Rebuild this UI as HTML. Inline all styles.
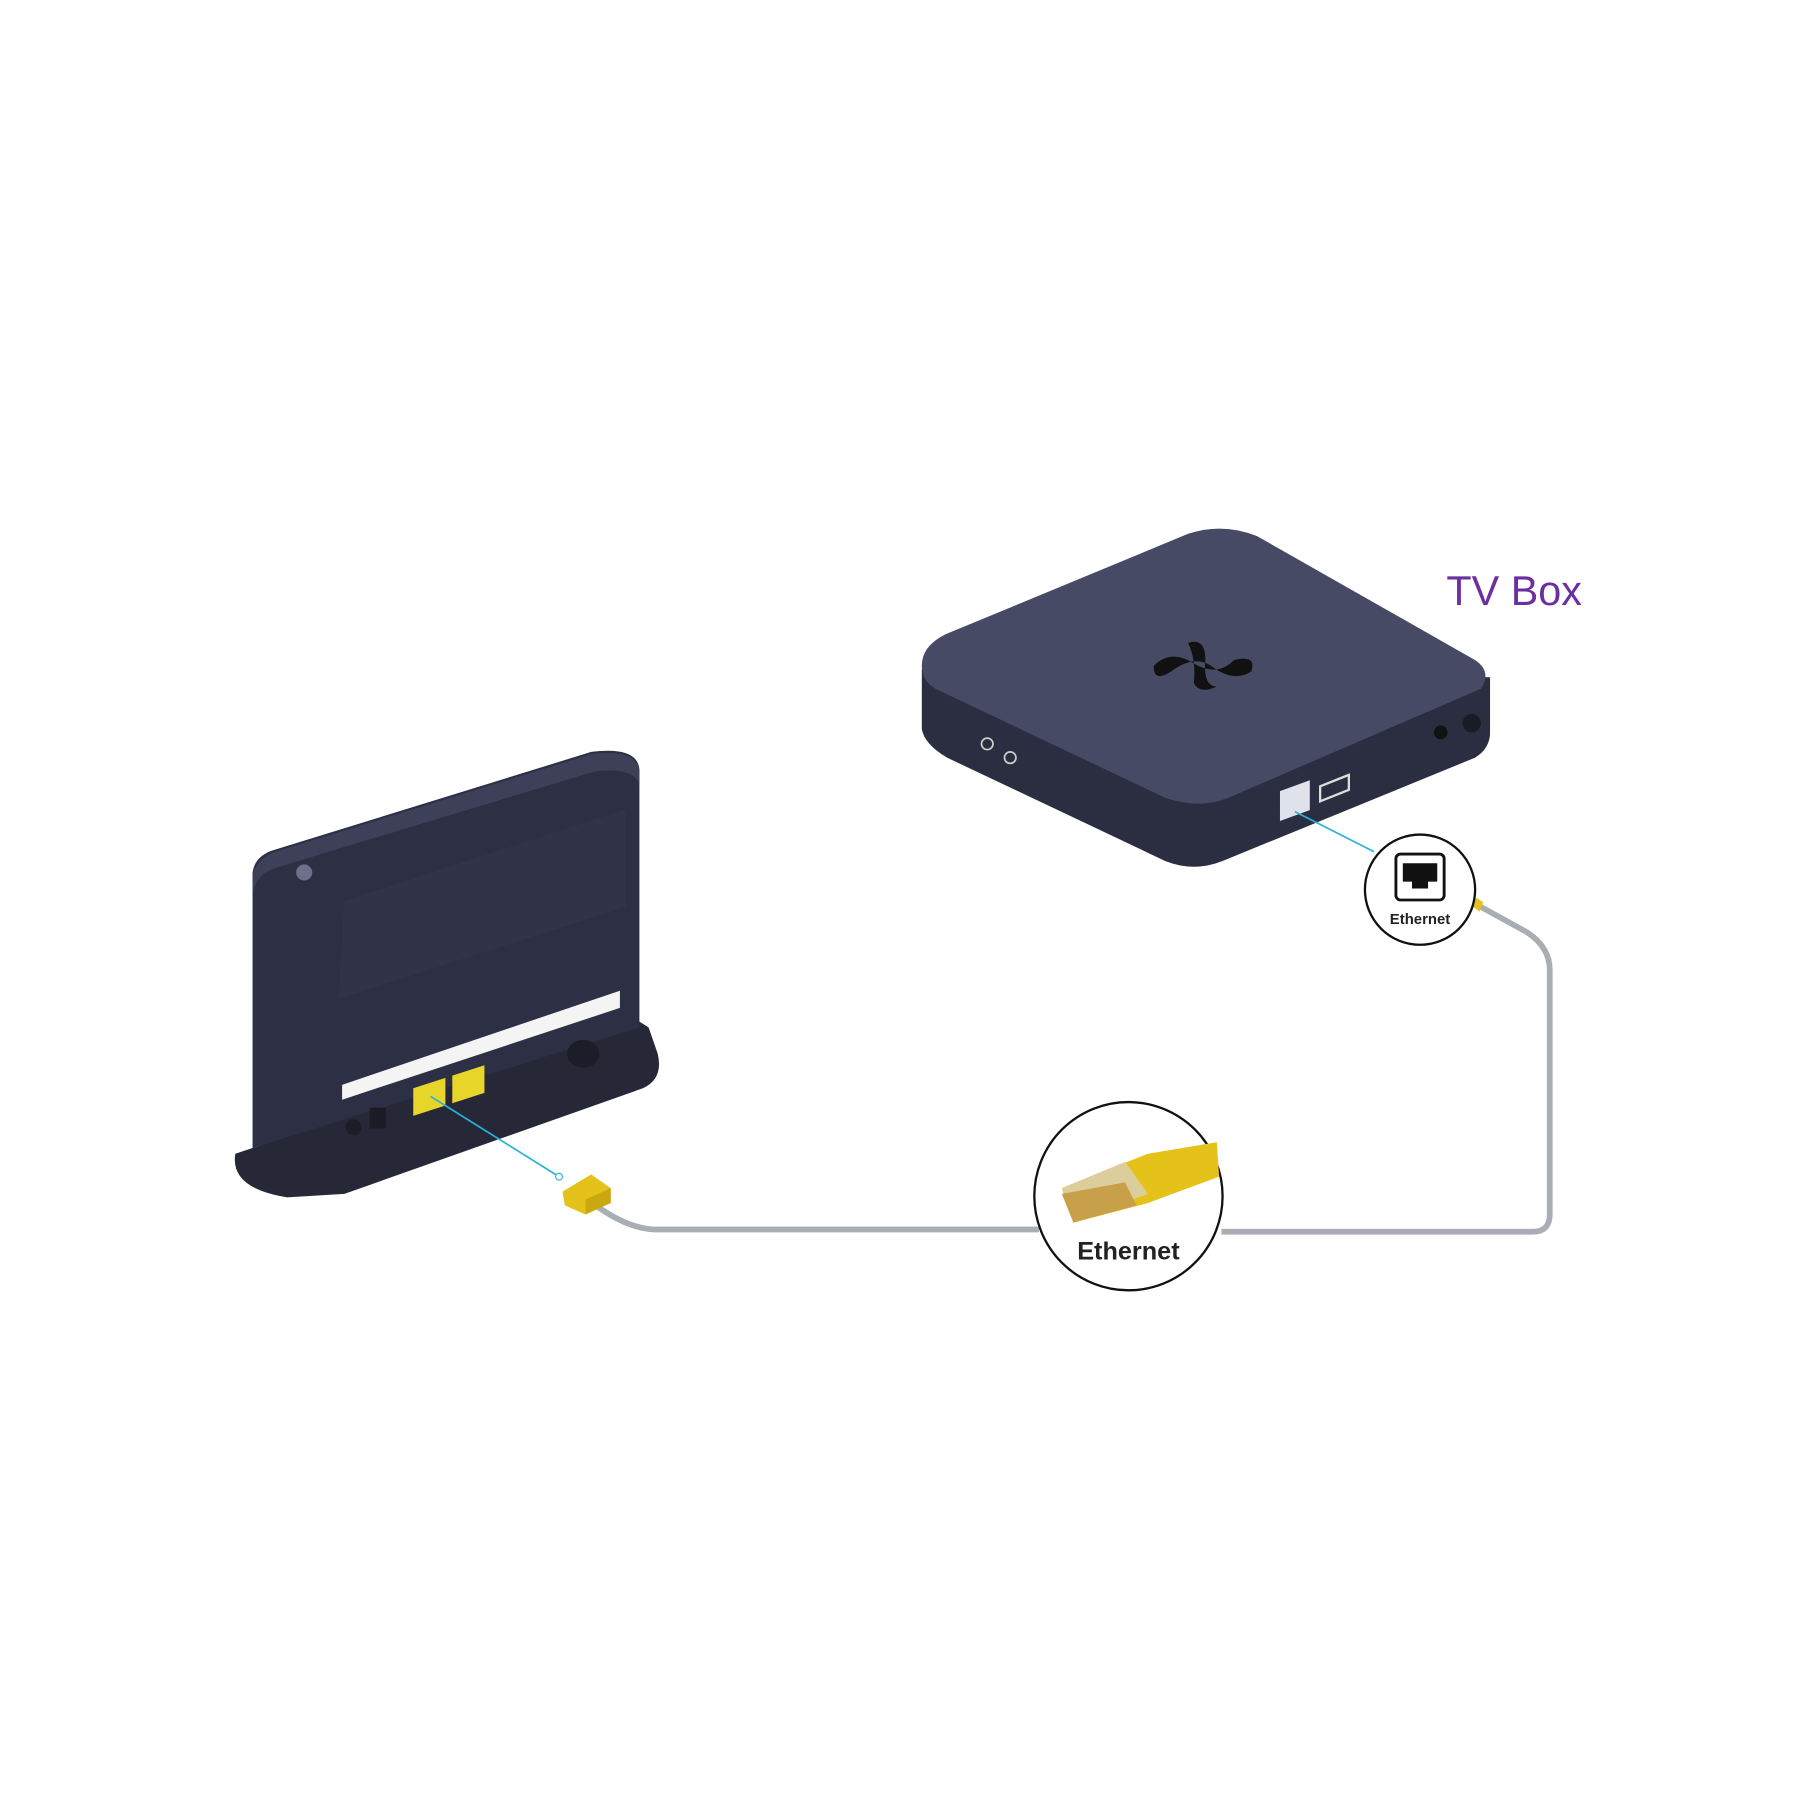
<!DOCTYPE html>
<html><head><meta charset="utf-8"><style>
html,body{margin:0;padding:0;background:#fff;width:1800px;height:1800px;overflow:hidden}
svg{display:block}
text{font-family:"Liberation Sans",sans-serif}
</style></head><body>
<svg width="1800" height="1800" viewBox="0 0 1568 1568" xmlns="http://www.w3.org/2000/svg">
<rect width="1568" height="1568" fill="#fff"/>
<!-- cable -->
<path d="M515 1047 Q545 1070 570 1071 L905 1071" fill="none" stroke="#a9adb4" stroke-width="5"/>
<path d="M1064 1073 L1335 1073 Q1350 1073 1350 1058 L1350 845 Q1350 825 1330 812 L1290 790" fill="none" stroke="#a9adb4" stroke-width="5"/>
<path d="M1286 782 l6 4 l-3 8 l-6 -4z" fill="#e4c21a"/>
<!-- router -->
<path d="M205 1005 Q200 1035 250 1043 L300 1040 L560 948 Q578 940 573 918 L565 895 L557 890 L220 1000 Z" fill="#262838"/>
<path d="M220 760 Q222 745 240 740 L515 655 Q555 650 557 670 L557 895 L220 1000 Z" fill="#2d3045"/>
<path d="M220 765 Q222 748 240 742 L515 657 Q555 652 557 672 L557 685 Q555 668 518 672 L240 756 Q222 762 220 780 Z" fill="#3d4058"/>
<path d="M300 785 L545 705 L545 790 L295 870 Z" fill="#33364b" opacity="0.7"/>
<circle cx="265" cy="760" r="7" fill="#6d7088"/>
<path d="M298 945 L540 863 L540 878 L298 958 Z" fill="#f4f4f4"/>
<path d="M360 948 L388 939 L388 963 L360 972Z" fill="#e7d52a"/>
<path d="M394 937 L422 928 L422 952 L394 961Z" fill="#e7d52a"/>
<rect x="322" y="965" width="14" height="18" fill="#1a1b26"/>
<circle cx="308" cy="982" r="7" fill="#1c1d29"/>
<ellipse cx="508" cy="918" rx="14" ry="12" fill="#1c1d29"/>
<!-- cyan lines -->
<line x1="375" y1="955" x2="487" y2="1025" stroke="#2ab3d8" stroke-width="1.5"/>
<circle cx="487" cy="1025" r="3" fill="#fff" stroke="#2ab3d8"/>
<path d="M490 1038 L515 1023 L532 1035 L532 1048 L510 1058 L492 1050 Z" fill="#e4c21a"/>
<path d="M510 1045 L532 1035 L532 1048 L510 1058Z" fill="#c9a812"/>
<!-- TV box -->
<path d="M803 583 L803 635 Q805 648 825 660 L1015 750 Q1040 760 1065 750 L1285 660 Q1298 652 1298 638 L1298 590 Z" fill="#2b2d40"/>
<path d="M803 580 Q803 562 825 552 L1035 465 Q1065 455 1095 467 L1285 575 Q1300 585 1290 600 L1070 695 Q1045 705 1015 695 L815 600 Q803 593 803 580Z" fill="#464a65"/>
<path d="M1005 580 Q1020 565 1040 578 Q1060 590 1075 575 Q1095 570 1090 585 Q1075 595 1055 580 Q1040 570 1020 585 Q1005 595 1005 580Z M1035 560 Q1050 555 1050 575 Q1048 598 1060 598 Q1045 605 1040 595 Q1042 575 1035 560Z" fill="#111"/>
<rect x="1115" y="690" width="26" height="26" fill="#dfe2ea" transform="skewY(-20) translate(0 405)"/>
<path d="M1150 685 L1175 675 L1175 688 L1150 698Z" fill="none" stroke="#ddd" stroke-width="2"/>
<circle cx="1255" cy="638" r="6" fill="#111"/>
<circle cx="1282" cy="630" r="8" fill="#1a1b26"/>
<circle cx="860" cy="648" r="5" fill="none" stroke="#ccc" stroke-width="1.5"/>
<circle cx="880" cy="660" r="5" fill="none" stroke="#ccc" stroke-width="1.5"/>
<line x1="1128" y1="707" x2="1197" y2="742" stroke="#2ab3d8" stroke-width="1.5"/>
<text x="1260" y="527" font-size="36" fill="#6b2fa0">TV Box</text>
<!-- small circle -->
<circle cx="1237" cy="775" r="48" fill="#fff" stroke="#111" stroke-width="2"/>
<rect x="1216" y="744" width="42" height="40" rx="4" fill="#fff" stroke="#111" stroke-width="2.5"/>
<path d="M1222 752 H1252 V768 H1244 V774 H1230 V768 H1222Z" fill="#111"/>
<text x="1237" y="805" font-size="13" font-weight="bold" text-anchor="middle" fill="#222">Ethernet</text>
<!-- big circle -->
<circle cx="983" cy="1042" r="82" fill="#fff" stroke="#111" stroke-width="2"/>
<path d="M925 1035 L1000 1005 L1060 995 L1062 1025 L1000 1048 L935 1065 Z" fill="#e4c21a"/>
<path d="M925 1035 L980 1012 L1000 1040 L940 1062Z" fill="#d9cfa8" opacity="0.9"/>
<path d="M925 1040 L935 1065 L990 1050 L980 1030Z" fill="#c9a04a"/>
<text x="983" y="1097" font-size="22" font-weight="bold" text-anchor="middle" fill="#222">Ethernet</text>
</svg>
</body></html>
